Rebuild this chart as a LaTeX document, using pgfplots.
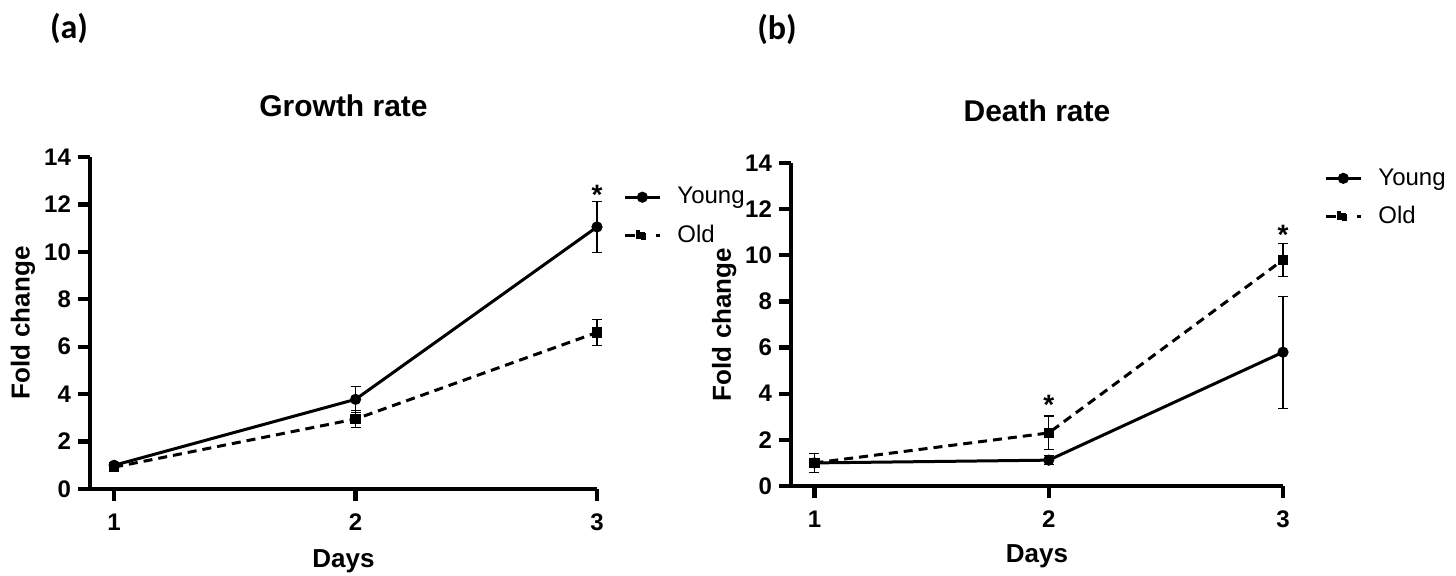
\documentclass[border=0pt]{standalone}
\usepackage{pgfplots}
\pgfplotsset{compat=1.18}
\usepackage{pgfplotstable}
\usepackage{fontspec}
\setmainfont{Liberation Sans}
\newfontfamily\carlito{Carlito}

% fold change, mean and error
\pgfplotstableread{
day young yerr old oerr
1 1.00 0.13 0.92 0.12
2 3.78 0.55 2.95 0.35
3 11.05 1.07 6.60 0.56
}\growth
\pgfplotstableread{
day young yerr old oerr
1 1.00 0.15 1.00 0.40
2 1.12 0.20 2.30 0.73
3 5.80 2.43 9.80 0.72
}\death

\pgfplotsset{
  panel/.style={
    scale only axis, clip=false,
    axis x line=bottom, axis y line=left,
    axis line style={-, line width=2.2pt, black},
    every inner x axis line/.append style={line width=2.2pt},
    every inner y axis line/.append style={line width=2.2pt},
    every outer x axis line/.append style={line width=2.2pt},
    every outer y axis line/.append style={line width=2.2pt},
    xmin=0.9, xmax=3, ymin=0, ymax=14,
    xtick={1,2,3}, ytick={0,2,...,14},
    tick align=outside, major tick length=6pt,
    tick style={black, line width=2.2pt},
    major tick style={black, line width=2.2pt},
    tick label style={font=\bfseries\fontsize{12}{14}\selectfont},
    xticklabel style={yshift=-3pt},
    /pgf/number format/assume math mode=true,
    title style={font=\bfseries\fontsize{15}{18}\selectfont, at={(axis description cs:0.5,1)}, anchor=base},
    xlabel={Days}, ylabel={Fold change},
    label style={font=\bfseries\fontsize{13}{15}\selectfont},
    xlabel style={at={(axis description cs:0.5,0)}, anchor=base},
    legend cell align=left,
    legend style={draw=none, fill=none, inner sep=0pt, anchor=west,
      row sep=9pt, column sep=8pt, font=\fontsize{12}{14}\selectfont,
      nodes={inner sep=0pt}},
  },
  errs/.style={
    error bars/y dir=both, error bars/y explicit,
    error bars/error bar style={line width=0.6pt, solid},
    error bars/error mark options={rotate=90, mark size=2.5pt, line width=0.6pt}},
  young/.style={black, solid, line width=1.5pt, mark=*, mark size=2pt, errs},
  old/.style={black, line width=1.5pt, dash pattern=on 4.5pt off 3pt,
    mark=square*, mark size=1.8pt, mark options={solid}, errs},
  young leg/.style={legend image code/.code={
    \draw[line width=1.6pt, solid] (0pt,0pt) -- (17.5pt,0pt);
    \fill (8.75pt,0pt) circle (2pt);}},
  old leg/.style={legend image code/.code={
    \draw[line width=1.6pt, solid] (0pt,0pt) -- (5pt,0pt) (15.5pt,0pt) -- (17.5pt,0pt);
    \fill (6.5pt,-1.7pt) rectangle (10pt,1.7pt);}},
}

\begin{document}
\begin{tikzpicture}
\path[use as bounding box] (0,0) rectangle (728pt,288pt);

\node[font=\carlito\bfseries\fontsize{17}{19}\selectfont] at (34.5pt,273.7pt) {(a)};
\node[font=\carlito\bfseries\fontsize{17}{19}\selectfont] at (388.5pt,273.2pt) {(b)};

\begin{axis}[panel, at={(45pt,43.5pt)}, anchor=south west,
    width=253.5pt, height=166pt,
    title={Growth rate}, title style={yshift=14pt},
    xlabel style={yshift=-39.5pt},
    ylabel style={at={(axis description cs:-0.132,0.5)}, anchor=center},
    legend style={at={(1.051,0.821)}}]
  \addplot[young, young leg] table[x=day, y=young, y error=yerr] {\growth};
  \addlegendentry{Young}
  \addplot[old, old leg] table[x=day, y=old, y error=oerr] {\growth};
  \addlegendentry{Old}
  \node[font=\bfseries\fontsize{14}{16}\selectfont, anchor=base, yshift=-8pt] at (axis cs:3,12.69) {*};
\end{axis}

\begin{axis}[panel, at={(395.5pt,45pt)}, anchor=south west,
    width=246pt, height=161.5pt,
    title={Death rate}, title style={yshift=14.5pt},
    xlabel style={yshift=-38.5pt},
    ylabel style={at={(axis description cs:-0.136,0.5)}, anchor=center},
    legend style={at={(1.083,0.893)}}]
  \addplot[young, young leg] table[x=day, y=young, y error=yerr] {\death};
  \addlegendentry{Young}
  \addplot[old, old leg] table[x=day, y=old, y error=oerr] {\death};
  \addlegendentry{Old}
  \node[font=\bfseries\fontsize{14}{16}\selectfont, anchor=base, yshift=-8pt] at (axis cs:2,3.81) {*};
  \node[font=\bfseries\fontsize{14}{16}\selectfont, anchor=base, yshift=-8pt] at (axis cs:3,11.18) {*};
\end{axis}
\end{tikzpicture}
\end{document}
